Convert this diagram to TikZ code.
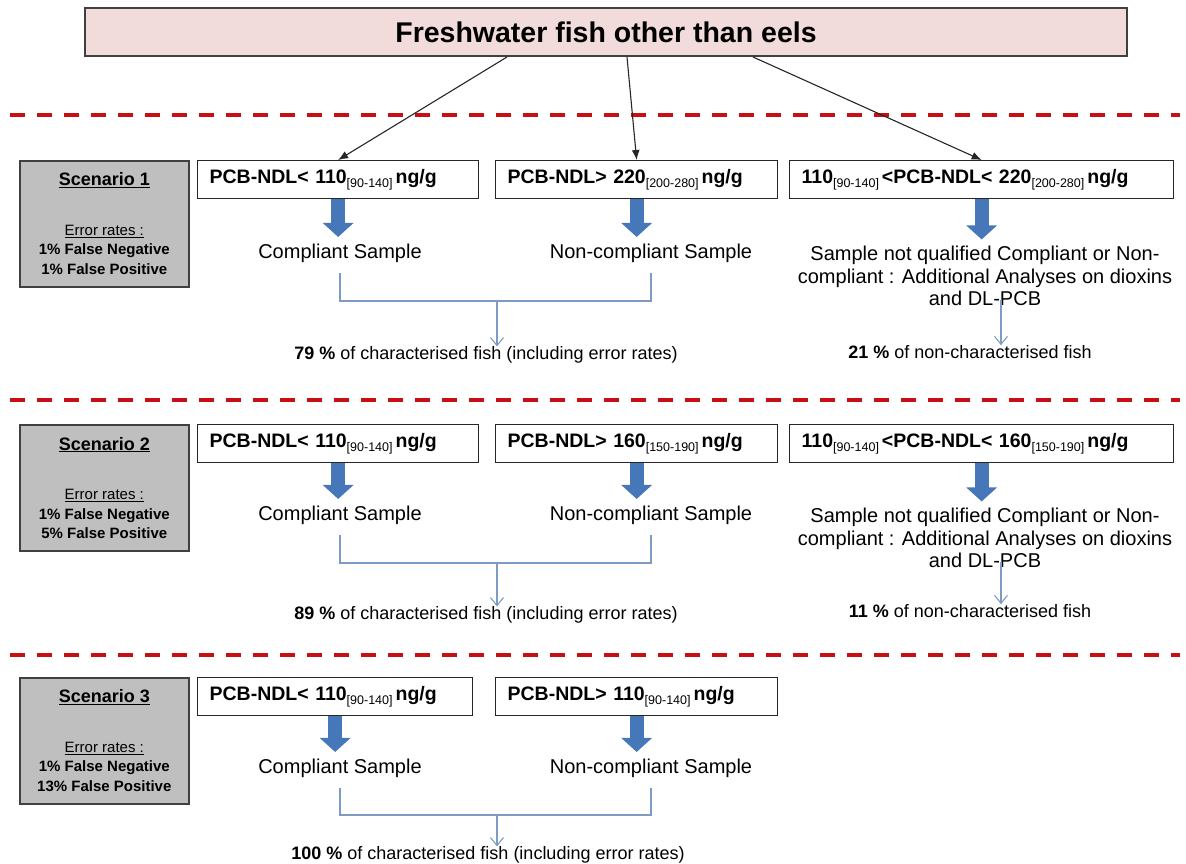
\documentclass[tikz,border=0pt]{standalone}
\usepackage{fontspec}
\setmainfont{Liberation Sans}
\usetikzlibrary{arrows.meta}

\definecolor{titlepink}{RGB}{242,220,219}
\definecolor{scengray}{RGB}{191,191,191}
\definecolor{fatblue}{RGB}{70,120,185}
\definecolor{linkblue}{RGB}{125,155,195}
\definecolor{cutred}{RGB}{200,16,20}

% bracketed range written under a threshold
\newcommand{\lims}[1]{\raisebox{-4.5pt}{\fontsize{12.5}{12.5}\selectfont\mdseries #1}\hspace{3pt}}

\begin{document}
\begin{tikzpicture}[x=1pt,y=-1pt,
    title/.style={draw=black!75,line width=2pt,fill=titlepink,minimum width=1042pt,
                  minimum height=48pt,font=\fontsize{28.5}{34}\selectfont\bfseries},
    scen/.style={draw=black!75,line width=1.6pt,fill=scengray,minimum width=169pt,
                 minimum height=126pt,align=center,anchor=north west,
                 font=\fontsize{15}{19.5}\selectfont\bfseries},
    cond/.style={draw=black!85,line width=1.3pt,anchor=north west,minimum height=38pt,
                 inner xsep=12pt,text width=#1,align=left,
                 font=\fontsize{19.5}{22}\selectfont\bfseries},
    outc/.style={inner sep=0pt,align=center,font=\fontsize{20}{22.5}\selectfont},
    perc/.style={inner sep=0pt,font=\fontsize{18}{20}\selectfont},
    feed/.style={-{Latex[length=10pt,width=8pt]},line width=1.1pt,black!85},
    fat/.style={-{Triangle[length=14pt,width=30pt]},line width=14pt,fatblue,shorten >=6.5pt},
    link/.style={line width=1.1pt,linkblue},
    linkarrow/.style={link,-{Straight Barb[length=8pt,width=13pt]}},
    cut/.style={cutred,line width=4pt,dash pattern=on 15pt off 12pt}]

  \useasboundingbox (0,0) rectangle (1186,864);

  \node[title] (top) at (606,32) {Freshwater fish other than eels};

  \foreach \y in {115,400,655}
    \draw[cut] (10,\y) -- (1180,\y);

  % scenario 1
  \node[scen] (s1) at (19,160) {{\fontsize{18}{20}\selectfont\underline{Scenario 1}}\\[30pt]
    {\mdseries\underline{Error rates :}}\\1\% False Negative\\1\% False Positive};
  \node[cond=257pt] (c11) at (197,160) {PCB-NDL< 110\lims{[90-140]}ng/g};
  \node[cond=258pt] (c12) at (495,160) {PCB-NDL> 220\lims{[200-280]}ng/g};
  \node[cond=360pt] (c13) at (789,160) {110\lims{[90-140]}<PCB-NDL< 220\lims{[200-280]}ng/g};

  \node[outc] (cs1) at (340,253) {Compliant Sample};
  \node[outc] (nc1) at (651,253) {Non-compliant Sample};
  \node[outc] (nq1) at (985,276) {Sample not qualified Compliant or Non-\\compliant : Additional Analyses on dioxins\\and DL-PCB};
  \node[perc] (pc1) at (486,355) {\textbf{79 \%} of characterised fish (including error rates)};
  \node[perc] (nn1) at (970,352) {\textbf{21 \%} of non-characterised fish};
  \coordinate (j1) at (497,301);

  \draw[feed] ([xshift=-99pt]top.south) -- (c11.north);
  \draw[feed] ([xshift=21pt]top.south) -- (c12.north);
  \draw[feed] ([xshift=147pt]top.south) -- (c13.north);
  \draw[fat] (c11.south) -- (c11.south |- cs1.north);
  \draw[fat] (c12.south) -- (c12.south |- nc1.north);
  \draw[fat] (c13.south) -- (c13.south |- nq1.north);
  \draw[link] ([yshift=-10pt]cs1.south) |- (j1) -| ([yshift=-10pt]nc1.south);
  \draw[linkarrow] (j1) -- (j1 |- pc1.north);
  \draw[linkarrow] ([xshift=16pt,yshift=6pt]nq1.south) -- ([xshift=16pt]nq1.south |- nn1.north);

  % scenario 2
  \node[scen] (s2) at (19,424) {{\fontsize{18}{20}\selectfont\underline{Scenario 2}}\\[30pt]
    {\mdseries\underline{Error rates :}}\\1\% False Negative\\5\% False Positive};
  \node[cond=257pt] (c21) at (197,424) {PCB-NDL< 110\lims{[90-140]}ng/g};
  \node[cond=258pt] (c22) at (495,424) {PCB-NDL> 160\lims{[150-190]}ng/g};
  \node[cond=360pt] (c23) at (789,424) {110\lims{[90-140]}<PCB-NDL< 160\lims{[150-190]}ng/g};

  \node[outc] (cs2) at (340,515) {Compliant Sample};
  \node[outc] (nc2) at (651,515) {Non-compliant Sample};
  \node[outc] (nq2) at (985,538) {Sample not qualified Compliant or Non-\\compliant : Additional Analyses on dioxins\\and DL-PCB};
  \node[perc] (pc2) at (486,615) {\textbf{89 \%} of characterised fish (including error rates)};
  \node[perc] (nn2) at (970,611) {\textbf{11 \%} of non-characterised fish};
  \coordinate (j2) at (497,563);

  \draw[fat] (c21.south) -- (c21.south |- cs2.north);
  \draw[fat] (c22.south) -- (c22.south |- nc2.north);
  \draw[fat] (c23.south) -- (c23.south |- nq2.north);
  \draw[link] ([yshift=-10pt]cs2.south) |- (j2) -| ([yshift=-10pt]nc2.south);
  \draw[linkarrow] (j2) -- (j2 |- pc2.north);
  \draw[linkarrow] ([xshift=16pt,yshift=6pt]nq2.south) -- ([xshift=16pt]nq2.south |- nn2.north);

  % scenario 3
  \node[scen] (s3) at (19,677) {{\fontsize{18}{20}\selectfont\underline{Scenario 3}}\\[30pt]
    {\mdseries\underline{Error rates :}}\\1\% False Negative\\13\% False Positive};
  \node[cond=251pt] (c31) at (197,677) {PCB-NDL< 110\lims{[90-140]}ng/g};
  \node[cond=258pt] (c32) at (495,677) {PCB-NDL> 110\lims{[90-140]}ng/g};

  \node[outc] (cs3) at (340,768) {Compliant Sample};
  \node[outc] (nc3) at (651,768) {Non-compliant Sample};
  \node[perc] (pc3) at (488,855) {\textbf{100 \%} of characterised fish (including error rates)};
  \coordinate (j3) at (497,815);

  \draw[fat] (c31.south) -- (c31.south |- cs3.north);
  \draw[fat] (c32.south) -- (c32.south |- nc3.north);
  \draw[link] ([yshift=-10pt]cs3.south) |- (j3) -| ([yshift=-10pt]nc3.south);
  \draw[linkarrow] (j3) -- (j3 |- pc3.north);
\end{tikzpicture}
\end{document}
